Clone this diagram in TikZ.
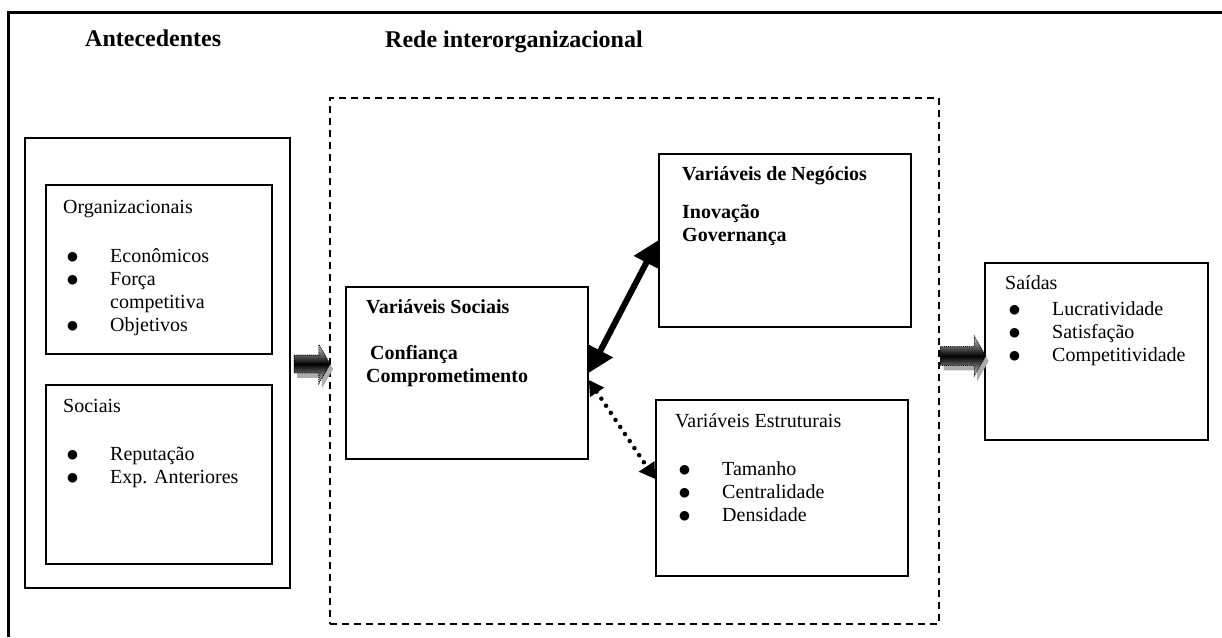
\documentclass[tikz,border=0pt]{standalone}
\usepackage{fontspec}
\setmainfont{Liberation Serif}
\newfontfamily\symfont{DejaVu Sans}
\usetikzlibrary{arrows.meta,shapes.arrows,shadows}
\newcommand{\boxtext}[1]{\begin{tabular}[t]{@{}l@{}}#1\end{tabular}}
\newcommand{\bul}{\makebox[47pt][l]{\hspace{4pt}\raisebox{2pt}{\symfont\fontsize{12.5}{12.5}\selectfont ●}}}
\newcommand{\cont}{\hspace*{47pt}}

\begin{document}
\begin{tikzpicture}[x=1pt, y=-1pt,
  box/.style={draw, line width=1.8pt, inner sep=0pt, anchor=north west},
  txt/.style={anchor=base west, inner sep=0pt, font=\fontsize{20}{23.3}\selectfont},
  heading/.style={anchor=base west, inner sep=0pt, font=\fontsize{24}{28}\selectfont\bfseries},
  blockarrow/.style={single arrow, single arrow head extend=10.5pt, single arrow tip angle=120,
    inner xsep=0pt, draw=black, densely dotted, line width=0.9pt,
    top color=gray!40, bottom color=gray!40, middle color=black,
    drop shadow={shadow xshift=3pt, shadow yshift=-5pt, fill=gray!65, opacity=1, draw=none}},
  bigarrow/.style={{Triangle[length=25pt,width=27pt]}-{Triangle[length=25pt,width=27pt]}, line width=6pt},
  dotarrow/.style={{Triangle[length=15pt,width=16pt]}-{Triangle[length=15pt,width=18pt]},
    line width=4.5pt, line cap=round, dash pattern=on 0pt off 8.5pt}]
  \useasboundingbox (0,0) rectangle (1222,637);
  \draw[line width=3pt] (8,637) -- (8,12) -- (1222,12);

  \node[heading] (antecedentes) at (85,46) {Antecedentes};
  \node[heading] (rede) at (385,47) {Rede interorganizacional};

  \node[box, minimum width=265pt, minimum height=450pt] (antbox) at (24,137) {};
  \node[box, minimum width=226pt, minimum height=169pt] (orgbox) at (45,184) {};
  \node[box, minimum width=226pt, minimum height=179pt] (socantbox) at (45,384) {};
  \node[box, dash pattern=on 7pt off 5pt, minimum width=609pt, minimum height=526pt] (redebox) at (329,97) {};
  \node[box, minimum width=242pt, minimum height=172pt] (socvarbox) at (345,286) {};
  \node[box, minimum width=252pt, minimum height=173pt] (negbox) at (658,153) {};
  \node[box, minimum width=252pt, minimum height=176pt] (estbox) at (655,399) {};
  \node[box, minimum width=223pt, minimum height=177pt] (saidabox) at (984,262) {};

  \node[txt] (orgtxt) at (63,213) {\boxtext{Organizacionais\\[25.7pt]
    \bul Econômicos\\ \bul Força\\ \cont competitiva\\ \bul Objetivos}};
  \node[txt] (socanttxt) at (63,412) {\boxtext{Sociais\\[24.7pt]
    \bul Reputação\\ \bul Exp. Anteriores}};
  \node[txt, font=\fontsize{20}{23.3}\selectfont\bfseries] (socvartxt) at (366,313) {\boxtext{Variáveis Sociais\\[22.7pt]
    \hspace{4pt}Confiança\\ Comprometimento}};
  \node[txt, font=\fontsize{20}{23.3}\selectfont\bfseries] (negtxt) at (682,180) {\boxtext{Variáveis de Negócios\\[14.7pt]
    Inovação\\ Governança}};
  \node[txt] (esttxt) at (675,427) {\boxtext{Variáveis Estruturais\\[24.7pt]
    \bul Tamanho\\ \bul Centralidade\\ \bul Densidade}};
  \node[txt] (saidatxt) at (1005,289) {\boxtext{Saídas\\[2.7pt]
    \bul Lucratividade\\ \bul Satisfação\\ \bul Competitividade}};

  \node[blockarrow, minimum height=36pt, inner ysep=8.5pt] (inarrow) at (309.5,364) {};
  \node[blockarrow, minimum height=45pt, inner ysep=9pt] (outarrow) at (960.5,356) {};

  \draw[bigarrow] (socvarbox.east) -- (negbox.west);
  \draw[dotarrow] ([yshift=-7pt]socvarbox.east) -- ([yshift=9pt]estbox.west);
\end{tikzpicture}
\end{document}
